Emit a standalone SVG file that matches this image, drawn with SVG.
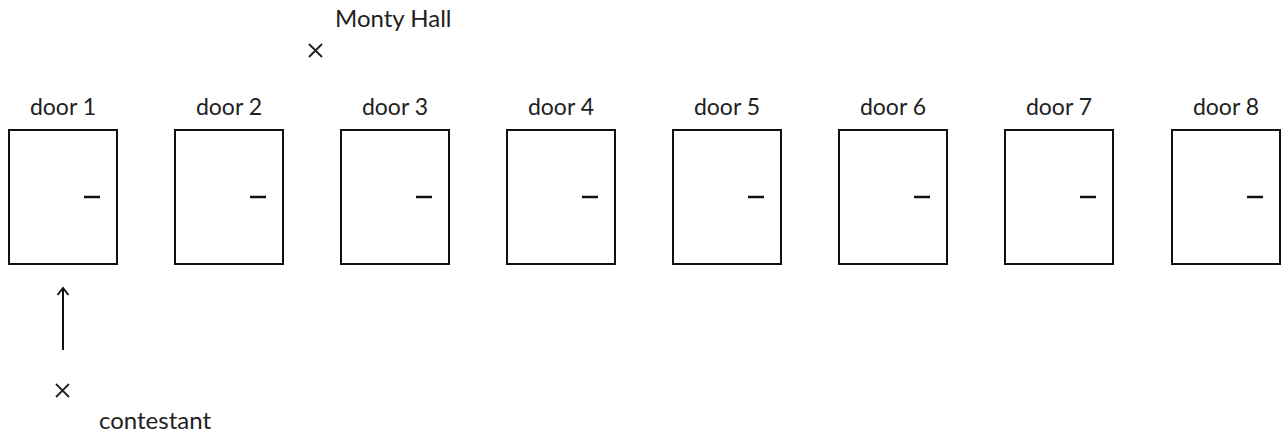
<svg xmlns="http://www.w3.org/2000/svg" width="1283" height="433" viewBox="0 0 1283 433">
<style>
text{font-family:Lato,"Open Sans",sans-serif;font-size:23px;fill:#222}
.big{font-size:24px}
.door{fill:#fff;stroke:#111;stroke-width:2}
.h{stroke:#111;stroke-width:2.5}
.x{stroke:#222;stroke-width:1.8;fill:none}
</style>
<defs>
<marker id="ah" markerWidth="14" markerHeight="14" refX="10" refY="7" orient="auto" markerUnits="userSpaceOnUse" viewBox="0 0 14 14">
<path d="M3,1.5 L10,7 L3,12.5" fill="none" stroke="#111" stroke-width="2"/>
</marker>
</defs>
<rect width="1283" height="433" fill="#fff"/>
<g id="door1"><text x="63" y="115" text-anchor="middle">door 1</text><rect class="door" x="9" y="130" width="108" height="134"/><line class="h" x1="84" y1="197" x2="100" y2="197"/></g>
<g id="door2"><text x="229" y="115" text-anchor="middle">door 2</text><rect class="door" x="175" y="130" width="108" height="134"/><line class="h" x1="250" y1="197" x2="266" y2="197"/></g>
<g id="door3"><text x="395" y="115" text-anchor="middle">door 3</text><rect class="door" x="341" y="130" width="108" height="134"/><line class="h" x1="416" y1="197" x2="432" y2="197"/></g>
<g id="door4"><text x="561" y="115" text-anchor="middle">door 4</text><rect class="door" x="507" y="130" width="108" height="134"/><line class="h" x1="582" y1="197" x2="598" y2="197"/></g>
<g id="door5"><text x="727" y="115" text-anchor="middle">door 5</text><rect class="door" x="673" y="130" width="108" height="134"/><line class="h" x1="748" y1="197" x2="764" y2="197"/></g>
<g id="door6"><text x="893" y="115" text-anchor="middle">door 6</text><rect class="door" x="839" y="130" width="108" height="134"/><line class="h" x1="914" y1="197" x2="930" y2="197"/></g>
<g id="door7"><text x="1059" y="115" text-anchor="middle">door 7</text><rect class="door" x="1005" y="130" width="108" height="134"/><line class="h" x1="1080" y1="197" x2="1096" y2="197"/></g>
<g id="door8"><text x="1226" y="115" text-anchor="middle">door 8</text><rect class="door" x="1172" y="130" width="108" height="134"/><line class="h" x1="1247" y1="197" x2="1263" y2="197"/></g>
<g id="monty"><text class="big" x="335" y="27">Monty Hall</text><path class="x" d="M309,44 L322,57 M322,44 L309,57"/></g>
<g id="contestant"><text class="big" x="99" y="429">contestant</text><path class="x" d="M56,384 L69,397 M69,384 L56,397"/></g>
<g id="connectors"><line x1="63" y1="350" x2="63" y2="288" stroke="#111" stroke-width="2" marker-end="url(#ah)"/></g>
</svg>
